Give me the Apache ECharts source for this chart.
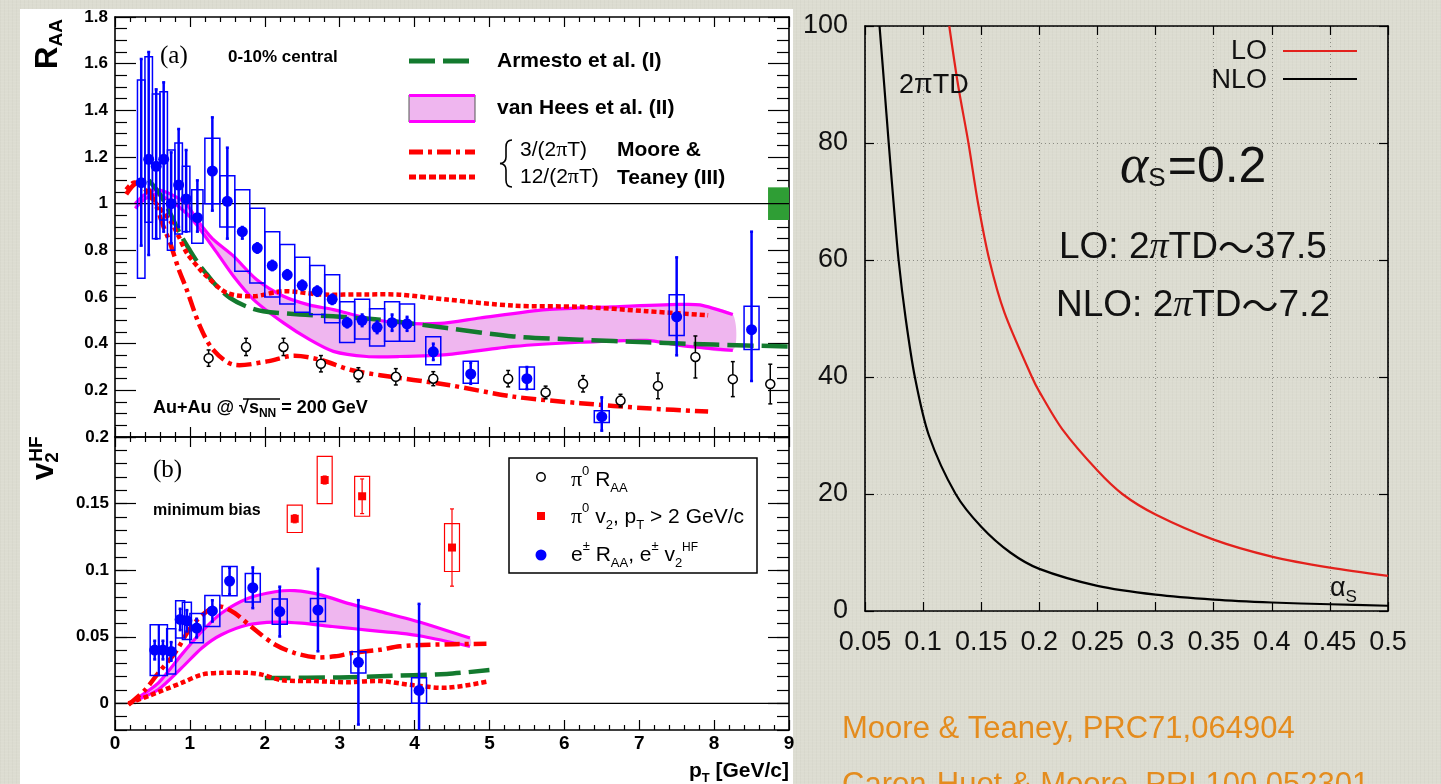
<!DOCTYPE html>
<html>
<head>
<meta charset="utf-8">
<script src="https://cdn.jsdelivr.net/npm/echarts@6/dist/echarts.min.js"></script>
<style>
html, body { margin: 0; padding: 0; width: 1441px; height: 784px; overflow: hidden; background: #dcdcd1; }
#bg { position: absolute; left: 0; top: 0; width: 1441px; height: 784px;
  background-color: #dcdcd1;
  background-image:
    repeating-linear-gradient(0deg, rgba(255,255,255,0.05) 0 1px, rgba(0,0,0,0) 1px 3px),
    repeating-linear-gradient(90deg, rgba(110,110,90,0.04) 0 1px, rgba(0,0,0,0) 1px 4px); }
#sheet { position: absolute; left: 20px; top: 9px; width: 773px; height: 775px; background: #ffffff; }
#chart { position: absolute; left: 0; top: 0; width: 1441px; height: 784px; }
</style>
</head>
<body>
<div id="bg"></div>
<div id="sheet"></div>
<div id="chart"></div>
<script>
// ---------- (a) R_AA, 0-10% central ----------
// heavy-flavour electrons
const eRaaPt     = [0.35, 0.45, 0.55, 0.65, 0.75, 0.85, 0.95, 1.1, 1.3, 1.5, 1.7, 1.9, 2.1, 2.3, 2.5, 2.7, 2.9, 3.1, 3.3, 3.5, 3.7, 3.9, 4.25, 4.75, 5.5, 6.5, 7.5, 8.5];
const eRaa       = [1.09, 1.19, 1.16, 1.19, 1.00, 1.08, 1.02, 0.94, 1.14, 1.01, 0.88, 0.81, 0.735, 0.695, 0.65, 0.625, 0.59, 0.49, 0.50, 0.47, 0.49, 0.485, 0.365, 0.27, 0.25, 0.087, 0.515, 0.46];
const eRaaStatLo = [0.82, 0.78, 0.85, 0.88, 0.83, 0.90, 0.88, 0.88, 0.97, 0.85, 0.85, 0.79, 0.715, 0.675, 0.63, 0.605, 0.57, 0.47, 0.475, 0.445, 0.455, 0.455, 0.33, 0.228, 0.205, 0.027, 0.35, 0.24];
const eRaaStatHi = [1.62, 1.65, 1.49, 1.52, 1.22, 1.32, 1.23, 1.10, 1.37, 1.24, 0.90, 0.83, 0.755, 0.715, 0.67, 0.645, 0.61, 0.51, 0.525, 0.495, 0.525, 0.515, 0.40, 0.318, 0.30, 0.17, 0.77, 0.88];
const eRaaSysLo  = [0.68, 0.92, 0.85, 0.93, 0.80, 0.87, 0.88, 0.83, 1.00, 0.90, 0.71, 0.66, 0.60, 0.57, 0.535, 0.525, 0.49, 0.405, 0.42, 0.39, 0.41, 0.41, 0.31, 0.23, 0.205, 0.062, 0.435, 0.375];
const eRaaSysHi  = [1.53, 1.63, 1.47, 1.48, 1.23, 1.26, 1.16, 1.06, 1.28, 1.12, 1.06, 0.98, 0.88, 0.825, 0.77, 0.735, 0.695, 0.58, 0.59, 0.55, 0.58, 0.57, 0.43, 0.325, 0.30, 0.113, 0.61, 0.56];
// neutral pions
const pi0RaaPt   = [1.25, 1.75, 2.25, 2.75, 3.25, 3.75, 4.25, 5.25, 5.75, 6.25, 6.75, 7.25, 7.75, 8.25, 8.75];
const pi0Raa     = [0.338, 0.386, 0.386, 0.314, 0.267, 0.258, 0.25, 0.25, 0.191, 0.228, 0.156, 0.219, 0.343, 0.248, 0.227];
const pi0RaaErr  = [0.035, 0.037, 0.037, 0.035, 0.03, 0.035, 0.03, 0.035, 0.027, 0.035, 0.027, 0.055, 0.09, 0.075, 0.085];
// global normalisation uncertainty at R_AA = 1
const raaNormUnc = 0.07;
// model curves [pT, R_AA]
const armestoRaa = [[0.45,1.10],[0.6,1.04],[0.75,0.95],[0.87,0.87],[1.0,0.80],[1.135,0.733],[1.22,0.70],[1.36,0.646],[1.535,0.596],[1.75,0.56],[1.98,0.539],[2.47,0.525],[2.915,0.517],[3.54,0.503],[4.43,0.467],[5.32,0.431],[6.21,0.417],[7.1,0.406],[7.99,0.396],[9.0,0.388]];
const vanHeesRaaHi = [[0.27,1.0],[0.4,1.04],[0.55,1.06],[0.75,1.04],[0.95,1.0],[1.09,0.933],[1.3,0.85],[1.58,0.776],[1.89,0.675],[2.25,0.603],[2.6,0.565],[2.915,0.546],[3.36,0.51],[3.8,0.489],[4.34,0.487],[4.87,0.51],[5.76,0.546],[6.65,0.558],[7.54,0.568],[7.81,0.566],[8.25,0.525]];
const vanHeesRaaLo = [[0.27,0.98],[0.4,1.02],[0.55,1.04],[0.75,1.01],[0.95,0.96],[1.09,0.91],[1.36,0.79],[1.58,0.69],[1.85,0.589],[2.25,0.489],[2.6,0.417],[2.915,0.367],[3.36,0.345],[3.8,0.345],[4.43,0.353],[5.32,0.388],[6.21,0.406],[7.1,0.414],[7.54,0.393],[8.25,0.371]];
const moore3Raa  = [[0.15,1.04],[0.25,1.08],[0.35,1.09],[0.45,1.06],[0.55,0.99],[0.65,0.90],[0.734,0.833],[0.85,0.72],[0.957,0.632],[1.135,0.474],[1.31,0.374],[1.58,0.31],[2.03,0.324],[2.38,0.348],[2.74,0.331],[3.14,0.288],[3.54,0.265],[4.43,0.224],[5.32,0.173],[6.21,0.145],[7.1,0.123],[7.92,0.109]];
const moore12Raa = [[0.15,1.06],[0.25,1.09],[0.35,1.08],[0.45,1.04],[0.55,1.0],[0.65,0.96],[0.75,0.92],[0.85,0.86],[0.957,0.79],[1.135,0.718],[1.22,0.69],[1.49,0.618],[1.85,0.603],[2.25,0.625],[2.74,0.611],[3.36,0.611],[3.8,0.61],[4.43,0.589],[5.32,0.563],[6.21,0.558],[7.1,0.539],[7.92,0.522]];

// ---------- (b) v2, minimum bias ----------
const eV2Pt    = [0.53, 0.64, 0.75, 0.87, 0.96, 1.09, 1.30, 1.53, 1.84, 2.20, 2.71, 3.25, 4.06];
const eV2      = [0.040, 0.040, 0.039, 0.063, 0.062, 0.0565, 0.0694, 0.0918, 0.0868, 0.0689, 0.0701, 0.0308, 0.0097];
const eV2Stat  = [0.007, 0.007, 0.007, 0.008, 0.008, 0.007, 0.008, 0.010, 0.0153, 0.0187, 0.031, 0.0467, 0.065];
const eV2Sys   = [0.019, 0.019, 0.017, 0.014, 0.014, 0.011, 0.0116, 0.011, 0.0107, 0.0095, 0.0087, 0.008, 0.0096];
const pi0V2Pt   = [2.40, 2.80, 3.30, 4.50];
const pi0V2     = [0.1386, 0.1677, 0.1555, 0.117];
const pi0V2Stat = [0.003, 0.003, 0.013, 0.029];
const pi0V2Sys  = [0.0103, 0.0178, 0.015, 0.018];
const vanHeesV2Hi = [[0.27,0.003],[0.58,0.0154],[0.89,0.0366],[1.16,0.054],[1.42,0.0677],[1.78,0.0789],[2.14,0.0838],[2.4,0.0846],[2.76,0.0813],[3.11,0.0751],[3.54,0.0689],[4.12,0.0602],[4.74,0.049]];
const vanHeesV2Lo = [[0.27,0.002],[0.58,0.0104],[0.89,0.0266],[1.16,0.0416],[1.42,0.0515],[1.78,0.059],[2.14,0.061],[2.49,0.0602],[2.9,0.0577],[3.2,0.056],[3.54,0.054],[3.8,0.0528],[4.12,0.0502],[4.74,0.0428]];
const moore3V2  = [[0.18,-0.001],[0.4,0.01],[0.58,0.0229],[0.8,0.0378],[1.02,0.0577],[1.25,0.0701],[1.42,0.0726],[1.6,0.0677],[1.87,0.0552],[2.14,0.044],[2.4,0.0378],[2.67,0.0346],[2.94,0.0353],[3.16,0.0378],[3.54,0.0403],[3.8,0.0428],[4.2,0.044],[4.96,0.0448]];
const moore12V2 = [[0.18,0.0],[0.445,0.0055],[0.89,0.0154],[1.16,0.0216],[1.42,0.0229],[1.78,0.0229],[1.96,0.0216],[2.23,0.0174],[2.67,0.0167],[3.11,0.0159],[3.54,0.0167],[4.0,0.0135],[4.43,0.0117],[4.96,0.0162]];
const armestoV2 = [[2.0,0.019],[3.0,0.0195],[3.54,0.0204],[4.43,0.0221],[5.0,0.025]];

// ---------- right panel: 2πTD versus αs ----------
const alphaLO  = [0.1225, 0.13, 0.139, 0.147, 0.157, 0.17, 0.1936, 0.2, 0.22, 0.25, 0.2714, 0.3, 0.35, 0.4, 0.45, 0.5];
const tdLO     = [100, 90, 80, 70, 60, 51, 40, 37.5, 31, 24, 20, 16.5, 12.2, 9.3, 7.4, 6.0];
const alphaNLO = [0.0625, 0.0665, 0.0704, 0.0745, 0.0789, 0.085, 0.0929, 0.105, 0.128, 0.15, 0.175, 0.2, 0.25, 0.3, 0.35, 0.4, 0.45, 0.5];
const tdNLO    = [100, 90, 80, 70, 60, 50, 40, 30, 20, 14.4, 10, 7.2, 4.3, 2.8, 1.95, 1.45, 1.15, 0.9];

// tick labels
const ptTickLabels = ['0','1','2','3','4','5','6','7','8','9'];
const v2MajorTicks = [0, 0.05, 0.1, 0.15, 0.2];

// ---------- styling ----------
const SANS = '"Liberation Sans", Arial, Helvetica, sans-serif';
const SERIF = '"Liberation Serif", "Times New Roman", serif';
const CJK = '"Noto Sans CJK JP", "Liberation Sans", sans-serif';
const BLUE = '#0000ff', RED = '#ff0000', MAGENTA = '#ff00ff', PINK = '#efb6ef', DKGREEN = '#137a2e';

function raaBoxHalf(pt) { return pt < 1 ? 0.05 : (pt < 1.2 ? 0.075 : 0.1); }
function v2BoxHalf(pt) { return pt < 1 ? 0.06 : (pt < 1.2 ? 0.09 : 0.1); }

function clampY(cs, y) { return Math.min(Math.max(y, cs.y), cs.y + cs.height); }

// vertical error bars with small end caps
function errorBars(xi, yi, data, color, width, cap, z) {
  return {
    type: 'custom', xAxisIndex: xi, yAxisIndex: yi, z: z, silent: true, data: data,
    renderItem: function (params, api) {
      const cs = params.coordSys;
      const top = api.coord([api.value(0), api.value(2)]);
      const bot = api.coord([api.value(0), api.value(1)]);
      const y1 = clampY(cs, top[1]), y2 = clampY(cs, bot[1]);
      const ch = [{ type: 'line', shape: { x1: top[0], y1: y1, x2: top[0], y2: y2 }, style: { stroke: color, lineWidth: width } }];
      if (cap > 0) {
        if (top[1] >= cs.y) ch.push({ type: 'line', shape: { x1: top[0] - cap, y1: y1, x2: top[0] + cap, y2: y1 }, style: { stroke: color, lineWidth: width } });
        if (bot[1] <= cs.y + cs.height) ch.push({ type: 'line', shape: { x1: top[0] - cap, y1: y2, x2: top[0] + cap, y2: y2 }, style: { stroke: color, lineWidth: width } });
      }
      return { type: 'group', children: ch };
    }
  };
}

// open systematic-uncertainty boxes: [x, lo, hi, halfWidth]
function sysBoxes(xi, yi, data, color, width, z) {
  return {
    type: 'custom', xAxisIndex: xi, yAxisIndex: yi, z: z, silent: true, data: data,
    renderItem: function (params, api) {
      const a = api.coord([api.value(0) - api.value(3), api.value(2)]);
      const b = api.coord([api.value(0) + api.value(3), api.value(1)]);
      return { type: 'rect', shape: { x: a[0], y: a[1], width: b[0] - a[0], height: b[1] - a[1] },
        style: { fill: 'none', stroke: color, lineWidth: width } };
    }
  };
}

// filled theory band between two boundary curves
function band(xi, yi, hi, lo, z) {
  return {
    type: 'custom', xAxisIndex: xi, yAxisIndex: yi, z: z, silent: true, data: [0],
    renderItem: function (params, api) {
      const ph = hi.map(function (p) { return api.coord(p); });
      const pl = lo.map(function (p) { return api.coord(p); });
      return { type: 'group', children: [
        { type: 'polygon', shape: { points: ph.concat(pl.slice().reverse()), smooth: 0.25 }, style: { fill: PINK, stroke: 'none' } },
        { type: 'polyline', shape: { points: ph, smooth: 0.25 }, style: { stroke: MAGENTA, lineWidth: 3.2, fill: 'none' } },
        { type: 'polyline', shape: { points: pl, smooth: 0.25 }, style: { stroke: MAGENTA, lineWidth: 3.2, fill: 'none' } }
      ] };
    }
  };
}

// smooth model curve drawn through the axis scales
function curve(xi, yi, data, color, width, dash, z) {
  return {
    type: 'custom', xAxisIndex: xi, yAxisIndex: yi, z: z, silent: true, data: [0],
    renderItem: function (params, api) {
      const pts = data.map(function (p) { return api.coord(p); });
      return { type: 'polyline', shape: { points: pts, smooth: 0.3 },
        style: { stroke: color, lineWidth: width, lineDash: dash, fill: 'none', lineCap: 'butt' } };
    }
  };
}

function flat(xi, yi, y, x0, x1, z) {
  return { type: 'line', xAxisIndex: xi, yAxisIndex: yi, data: [[x0, y], [x1, y]], symbol: 'none', silent: true, z: z,
    lineStyle: { color: '#000', width: 1.2 } };
}

// ---------- axes ----------
const tickStyle = { color: '#000', width: 1.2 };
function ptAxis(grid, pos, labels) {
  return { type: 'value', gridIndex: grid, position: pos, min: 0, max: 9, interval: 1,
    axisLine: { show: true, onZero: false, lineStyle: { color: '#000', width: 1.6 } },
    axisTick: { show: true, inside: true, length: 10, lineStyle: tickStyle },
    minorTick: { show: true, splitNumber: 5, length: 5, lineStyle: tickStyle },
    splitLine: { show: false }, minorSplitLine: { show: false },
    axisLabel: { show: labels, margin: 4, color: '#000', fontFamily: SANS, fontWeight: 'bold', fontSize: 19,
      showMinLabel: true, showMaxLabel: true, formatter: function (v) { return ptTickLabels[Math.round(v)]; } } };
}
function raaAxis(pos, labels) {
  return { type: 'value', gridIndex: 0, position: pos, min: 0, max: 1.8, interval: 0.2,
    axisLine: { show: true, onZero: false, lineStyle: { color: '#000', width: 1.6 } },
    axisTick: { show: true, inside: true, length: 21, lineStyle: tickStyle },
    minorTick: { show: true, splitNumber: 4, length: 12, lineStyle: tickStyle },
    splitLine: { show: false }, minorSplitLine: { show: false },
    axisLabel: { show: labels, margin: 7, color: '#000', fontFamily: SANS, fontWeight: 'bold', fontSize: 17,
      formatter: function (v) { return Math.abs(v) < 1e-9 ? '' : String(+v.toFixed(1)); } } };
}
function v2MajorAxis(pos, labels) {
  return { type: 'value', gridIndex: 1, position: pos, min: -0.02, max: 0.2,
    axisLine: { show: true, onZero: false, lineStyle: { color: '#000', width: 1.6 } },
    axisTick: { show: true, inside: true, length: 21, lineStyle: tickStyle, customValues: v2MajorTicks },
    splitLine: { show: false },
    axisLabel: { show: labels, customValues: v2MajorTicks, margin: 6, color: '#000', fontFamily: SANS, fontWeight: 'bold', fontSize: 17,
      formatter: function (v) { return String(+v.toFixed(2)); } } };
}
function v2MinorAxis(pos) {
  return { type: 'value', gridIndex: 1, position: pos, min: -0.02, max: 0.2, interval: 0.01,
    axisLine: { show: false, onZero: false }, axisLabel: { show: false }, splitLine: { show: false },
    axisTick: { show: true, inside: true, length: 12, lineStyle: tickStyle } };
}

const rightTick = { show: true, inside: true, length: 9, lineStyle: { color: '#000', width: 1.2 } };
const rightGrid = { show: true, lineStyle: { color: '#8c8c84', type: [1, 3], width: 1 } };

// ---------- data for the custom series ----------
const eRaaBoxData = eRaaPt.map(function (p, i) { return [p, eRaaSysLo[i], eRaaSysHi[i], raaBoxHalf(p)]; });
const eRaaErrData = eRaaPt.map(function (p, i) { return [p, eRaaStatLo[i], eRaaStatHi[i]]; });
const pi0RaaErrData = pi0RaaPt.map(function (p, i) { return [p, pi0Raa[i] - pi0RaaErr[i], pi0Raa[i] + pi0RaaErr[i]]; });
const eV2BoxData = eV2Pt.map(function (p, i) { return [p, eV2[i] - eV2Sys[i], eV2[i] + eV2Sys[i], v2BoxHalf(p)]; });
const eV2ErrData = eV2Pt.map(function (p, i) { return [p, eV2[i] - eV2Stat[i], eV2[i] + eV2Stat[i]]; });
const pi0V2BoxData = pi0V2Pt.map(function (p, i) { return [p, pi0V2[i] - pi0V2Sys[i], pi0V2[i] + pi0V2Sys[i], 0.1]; });
const pi0V2ErrData = pi0V2Pt.map(function (p, i) { return [p, pi0V2[i] - pi0V2Stat[i], pi0V2[i] + pi0V2Stat[i]]; });

const series = [
  // (a)
  band(0, 0, vanHeesRaaHi, vanHeesRaaLo, 2),
  flat(0, 0, 1, 0, 9, 3),
  {
    type: 'custom', xAxisIndex: 0, yAxisIndex: 0, z: 3, silent: true, data: [[8.72, 9, 1 - raaNormUnc, 1 + raaNormUnc]],
    renderItem: function (params, api) {
      const a = api.coord([api.value(0), api.value(3)]), b = api.coord([api.value(1), api.value(2)]);
      return { type: 'rect', shape: { x: a[0], y: a[1], width: b[0] - a[0], height: b[1] - a[1] }, style: { fill: '#2f9e35' } };
    }
  },
  curve(0, 0, armestoRaa, DKGREEN, 4.5, [26, 8], 4),
  curve(0, 0, moore12Raa, RED, 4.5, [5, 3], 4),
  curve(0, 0, moore3Raa, RED, 4.5, [15, 5, 4, 5], 4),
  sysBoxes(0, 0, eRaaBoxData, BLUE, 1.5, 5),
  errorBars(0, 0, eRaaErrData, BLUE, 2.5, 1.5, 6),
  errorBars(0, 0, pi0RaaErrData, '#000', 1.5, 2, 6),
  { type: 'scatter', xAxisIndex: 0, yAxisIndex: 0, z: 7, silent: true, symbol: 'circle', symbolSize: 11,
    itemStyle: { color: BLUE, opacity: 1 }, data: eRaaPt.map(function (p, i) { return [p, eRaa[i]]; }) },
  { type: 'scatter', xAxisIndex: 0, yAxisIndex: 0, z: 7, silent: true, symbol: 'circle', symbolSize: 9,
    itemStyle: { color: '#fff', borderColor: '#000', borderWidth: 1.5, opacity: 1 }, data: pi0RaaPt.map(function (p, i) { return [p, pi0Raa[i]]; }) },

  // (b)
  band(2, 2, vanHeesV2Hi, vanHeesV2Lo, 2),
  flat(2, 2, 0, 0, 9, 3),
  curve(2, 2, armestoV2, DKGREEN, 4.5, [26, 8], 4),
  curve(2, 2, moore12V2, RED, 4.5, [5, 3], 4),
  curve(2, 2, moore3V2, RED, 4.5, [15, 5, 4, 5], 4),
  sysBoxes(2, 2, eV2BoxData, BLUE, 1.5, 5),
  sysBoxes(2, 2, pi0V2BoxData, RED, 1.2, 5),
  errorBars(2, 2, eV2ErrData, BLUE, 2.5, 1.5, 6),
  errorBars(2, 2, pi0V2ErrData, RED, 1.2, 2, 6),
  { type: 'scatter', xAxisIndex: 2, yAxisIndex: 2, z: 7, silent: true, symbol: 'circle', symbolSize: 11,
    itemStyle: { color: BLUE, opacity: 1 }, data: eV2Pt.map(function (p, i) { return [p, eV2[i]]; }) },
  { type: 'scatter', xAxisIndex: 2, yAxisIndex: 2, z: 7, silent: true, symbol: 'rect', symbolSize: 8,
    itemStyle: { color: RED, opacity: 1 }, data: pi0V2Pt.map(function (p, i) { return [p, pi0V2[i]]; }) },

  // right panel
  curve(4, 6, alphaLO.map(function (a, i) { return [a, tdLO[i]]; }), '#e3211c', 2.2, null, 4),
  curve(4, 6, alphaNLO.map(function (a, i) { return [a, tdNLO[i]]; }), '#000', 2.2, null, 4)
];

// ---------- annotation helpers ----------
function txt(x, y, text, style, extra) {
  return Object.assign({ type: 'text', x: x, y: y, silent: true, z: 100,
    style: Object.assign({ text: text, fill: '#000', fontFamily: SANS, fontSize: 20, align: 'left', verticalAlign: 'middle' }, style) }, extra || {});
}
function seg(x1, y1, x2, y2, color, width, dash) {
  return { type: 'line', silent: true, z: 100, shape: { x1: x1, y1: y1, x2: x2, y2: y2 },
    style: { stroke: color, lineWidth: width, lineDash: dash || null } };
}
function quad(x1, y1, cx, cy, x2, y2) {
  return { type: 'bezierCurve', silent: true, z: 100, shape: { x1: x1, y1: y1, cpx1: cx, cpy1: cy, x2: x2, y2: y2 },
    style: { fill: 'none', stroke: '#000', lineWidth: 1.6 } };
}

const graphics = [
  // (a) annotations
  txt(160, 56, '(a)', { fontFamily: SERIF, fontSize: 25 }),
  txt(228, 57, '0-10% central', { fontWeight: 'bold', fontSize: 17 }),
  txt(153, 408, '{b|Au+Au @ √s}{s|NN}{b| = 200 GeV}', { rich: {
    b: { fontFamily: SANS, fontWeight: 'bold', fontSize: 18, lineHeight: 24 },
    s: { fontFamily: SANS, fontWeight: 'bold', fontSize: 12, lineHeight: 24, verticalAlign: 'bottom' } } }),
  seg(243, 399, 280, 399, '#000', 1.3),
  // (a) legend
  seg(409, 61, 475, 61, DKGREEN, 5, [26, 8]),
  txt(497, 61, 'Armesto et al. (I)', { fontWeight: 'bold', fontSize: 21 }),
  { type: 'rect', silent: true, z: 100, shape: { x: 409, y: 95, width: 66, height: 27 }, style: { fill: PINK, stroke: '#555', lineWidth: 1 } },
  seg(409, 95.5, 475, 95.5, MAGENTA, 3),
  seg(409, 121.5, 475, 121.5, MAGENTA, 3),
  txt(497, 108, 'van Hees et al. (II)', { fontWeight: 'bold', fontSize: 21 }),
  seg(409, 152, 475, 152, RED, 5, [14, 5, 4, 5]),
  seg(409, 177, 475, 177, RED, 5, [7, 3]),
  // brace grouping the two Moore & Teaney curves
  quad(512, 140, 506, 140, 506, 147),
  seg(506, 147, 506, 157, '#000', 1.6),
  quad(506, 157, 506, 163, 500, 163.5),
  quad(500, 163.5, 506, 164, 506, 170),
  seg(506, 170, 506, 180, '#000', 1.6),
  quad(506, 180, 506, 187, 512, 187),
  txt(520, 150, '{t|3/(2}{p|π}{t|T)}', { rich: { t: { fontFamily: SANS, fontSize: 21 }, p: { fontFamily: SERIF, fontSize: 22 } } }),
  txt(520, 177, '{t|12/(2}{p|π}{t|T)}', { rich: { t: { fontFamily: SANS, fontSize: 21 }, p: { fontFamily: SERIF, fontSize: 22 } } }),
  txt(617, 150, 'Moore &', { fontWeight: 'bold', fontSize: 21 }),
  txt(617, 178, 'Teaney (III)', { fontWeight: 'bold', fontSize: 21 }),
  // y titles
  txt(48, 44, '{r|R}{s|AA}', { align: 'center', rich: {
    r: { fontFamily: SANS, fontWeight: 'bold', fontSize: 31, lineHeight: 36 },
    s: { fontFamily: SANS, fontWeight: 'bold', fontSize: 19, lineHeight: 36, verticalAlign: 'bottom' } } }, { rotation: Math.PI / 2 }),
  txt(44, 466, '{v|v}{s|2}', { align: 'center', rich: {
    v: { fontFamily: SANS, fontWeight: 'bold', fontSize: 31, lineHeight: 36 },
    s: { fontFamily: SANS, fontWeight: 'bold', fontSize: 19, lineHeight: 36, verticalAlign: 'bottom' } } }, { rotation: Math.PI / 2 }),
  txt(37, 449, 'HF', { align: 'center', fontWeight: 'bold', fontSize: 19 }, { rotation: Math.PI / 2 }),
  // (b) annotations
  txt(153, 470, '(b)', { fontFamily: SERIF, fontSize: 25 }),
  txt(153, 511, 'minimum bias', { fontWeight: 'bold', fontSize: 16 }),
  // (b) legend box
  { type: 'rect', silent: true, z: 99, shape: { x: 509, y: 458, width: 248, height: 115 }, style: { fill: '#fff', stroke: '#000', lineWidth: 1.5 } },
  { type: 'circle', silent: true, z: 100, shape: { cx: 541, cy: 477, r: 4.2 }, style: { fill: '#fff', stroke: '#000', lineWidth: 1.5 } },
  { type: 'rect', silent: true, z: 100, shape: { x: 537, y: 512, width: 8, height: 8 }, style: { fill: RED } },
  { type: 'circle', silent: true, z: 100, shape: { cx: 541, cy: 555, r: 5.5 }, style: { fill: BLUE } },
  txt(571, 480, '{p|π}{u|0}{n| R}{d|AA}', { rich: {
    p: { fontFamily: SERIF, fontSize: 22, lineHeight: 30 }, n: { fontFamily: SANS, fontSize: 21, lineHeight: 30 },
    u: { fontFamily: SANS, fontSize: 13, lineHeight: 30, verticalAlign: 'top' }, d: { fontFamily: SANS, fontSize: 13, lineHeight: 30, verticalAlign: 'bottom' } } }),
  txt(571, 517, '{p|π}{u|0}{n| v}{d|2}{n|, p}{d|T}{n| > 2 GeV/c}', { rich: {
    p: { fontFamily: SERIF, fontSize: 22, lineHeight: 30 }, n: { fontFamily: SANS, fontSize: 21, lineHeight: 30 },
    u: { fontFamily: SANS, fontSize: 13, lineHeight: 30, verticalAlign: 'top' }, d: { fontFamily: SANS, fontSize: 13, lineHeight: 30, verticalAlign: 'bottom' } } }),
  txt(571, 555, '{n|e}{u|±}{n| R}{d|AA}{n|, e}{u|±}{n| v}{d|2}', { rich: {
    n: { fontFamily: SANS, fontSize: 21, lineHeight: 30 },
    u: { fontFamily: SANS, fontSize: 13, lineHeight: 30, verticalAlign: 'top' }, d: { fontFamily: SANS, fontSize: 13, lineHeight: 30, verticalAlign: 'bottom' } } }),
  txt(682, 548, 'HF', { fontSize: 12 }),
  // x title
  txt(789, 771, '{b|p}{s|T}{b| [GeV/c]}', { align: 'right', rich: {
    b: { fontFamily: SANS, fontWeight: 'bold', fontSize: 21, lineHeight: 28 },
    s: { fontFamily: SANS, fontWeight: 'bold', fontSize: 13, lineHeight: 28, verticalAlign: 'bottom' } } }),

  // right panel
  txt(899, 86, '2πTD', { fontSize: 27, fill: '#111' }),
  txt(1267, 52, 'LO', { fontSize: 27, fill: '#111', align: 'right' }),
  txt(1267, 81, 'NLO', { fontSize: 27, fill: '#111', align: 'right' }),
  seg(1283, 51, 1357, 51, '#e3211c', 2.2),
  seg(1283, 79, 1357, 79, '#000', 2.2),
  txt(1120, 168, '{a|α}{s|S}{n|=0.2}', { fill: '#111', rich: {
    a: { fontFamily: SERIF, fontStyle: 'italic', fontSize: 54, lineHeight: 56 },
    s: { fontFamily: SANS, fontSize: 26, lineHeight: 56, verticalAlign: 'bottom', padding: [0, 2, 4, 0] },
    n: { fontFamily: SANS, fontSize: 50, lineHeight: 56 } } }),
  txt(1059, 248, '{n|LO: 2}{p|π}{n|TD}{w|～}{n|37.5}', { fill: '#111', rich: {
    n: { fontFamily: SANS, fontSize: 37, lineHeight: 44 }, p: { fontFamily: SERIF, fontStyle: 'italic', fontSize: 38, lineHeight: 44 },
    w: { fontFamily: CJK, fontSize: 37, lineHeight: 44 } } }),
  txt(1056, 306, '{n|NLO: 2}{p|π}{n|TD}{w|～}{n|7.2}', { fill: '#111', rich: {
    n: { fontFamily: SANS, fontSize: 37, lineHeight: 44 }, p: { fontFamily: SERIF, fontStyle: 'italic', fontSize: 38, lineHeight: 44 },
    w: { fontFamily: CJK, fontSize: 37, lineHeight: 44 } } }),
  txt(1330, 589, '{a|α}{s|S}', { fill: '#111', rich: {
    a: { fontFamily: SANS, fontSize: 27, lineHeight: 34 },
    s: { fontFamily: SANS, fontSize: 17, lineHeight: 34, verticalAlign: 'bottom' } } }),
  txt(842, 729, 'Moore & Teaney, PRC71,064904', { fontSize: 31, fill: '#e48c1e' }),
  txt(842, 785, 'Caron-Huot & Moore, PRL100,052301', { fontSize: 31, fill: '#e48c1e' })
];

const option = {
  backgroundColor: 'transparent',
  animation: false,
  grid: [
    { left: 115, top: 17, width: 674, height: 420, containLabel: false },
    { left: 115, top: 437, width: 674, height: 293, containLabel: false },
    { left: 865, top: 26, width: 523, height: 585, containLabel: false }
  ],
  xAxis: [
    ptAxis(0, 'bottom', false),
    ptAxis(0, 'top', false),
    ptAxis(1, 'bottom', true),
    ptAxis(1, 'top', false),
    { type: 'value', gridIndex: 2, position: 'bottom', min: 0.05, max: 0.5, interval: 0.05,
      axisLine: { show: true, onZero: false, lineStyle: { color: '#000', width: 1.6 } },
      axisTick: rightTick, splitLine: rightGrid,
      axisLabel: { margin: 18, fontFamily: SANS, fontSize: 27, color: '#111', showMinLabel: true, showMaxLabel: true,
        formatter: function (v) { return String(+v.toFixed(2)); } } },
    { type: 'value', gridIndex: 2, position: 'top', min: 0.05, max: 0.5, interval: 0.05,
      axisLine: { show: true, onZero: false, lineStyle: { color: '#000', width: 1.6 } },
      axisTick: rightTick, splitLine: { show: false }, axisLabel: { show: false } }
  ],
  yAxis: [
    raaAxis('left', true),
    raaAxis('right', false),
    v2MajorAxis('left', true),
    v2MinorAxis('left'),
    v2MajorAxis('right', false),
    v2MinorAxis('right'),
    { type: 'value', gridIndex: 2, position: 'left', min: 0, max: 100, interval: 20,
      axisLine: { show: true, onZero: false, lineStyle: { color: '#000', width: 1.6 } },
      axisTick: rightTick, splitLine: rightGrid,
      axisLabel: { margin: 17, fontFamily: SANS, fontSize: 27, color: '#111' } },
    { type: 'value', gridIndex: 2, position: 'right', min: 0, max: 100, interval: 20,
      axisLine: { show: true, onZero: false, lineStyle: { color: '#000', width: 1.6 } },
      axisTick: rightTick, splitLine: { show: false }, axisLabel: { show: false } }
  ],
  series: series,
  graphic: graphics
};

const chart = echarts.init(document.getElementById('chart'), null, { renderer: 'canvas' });
chart.setOption(option);
</script>
</body>
</html>
